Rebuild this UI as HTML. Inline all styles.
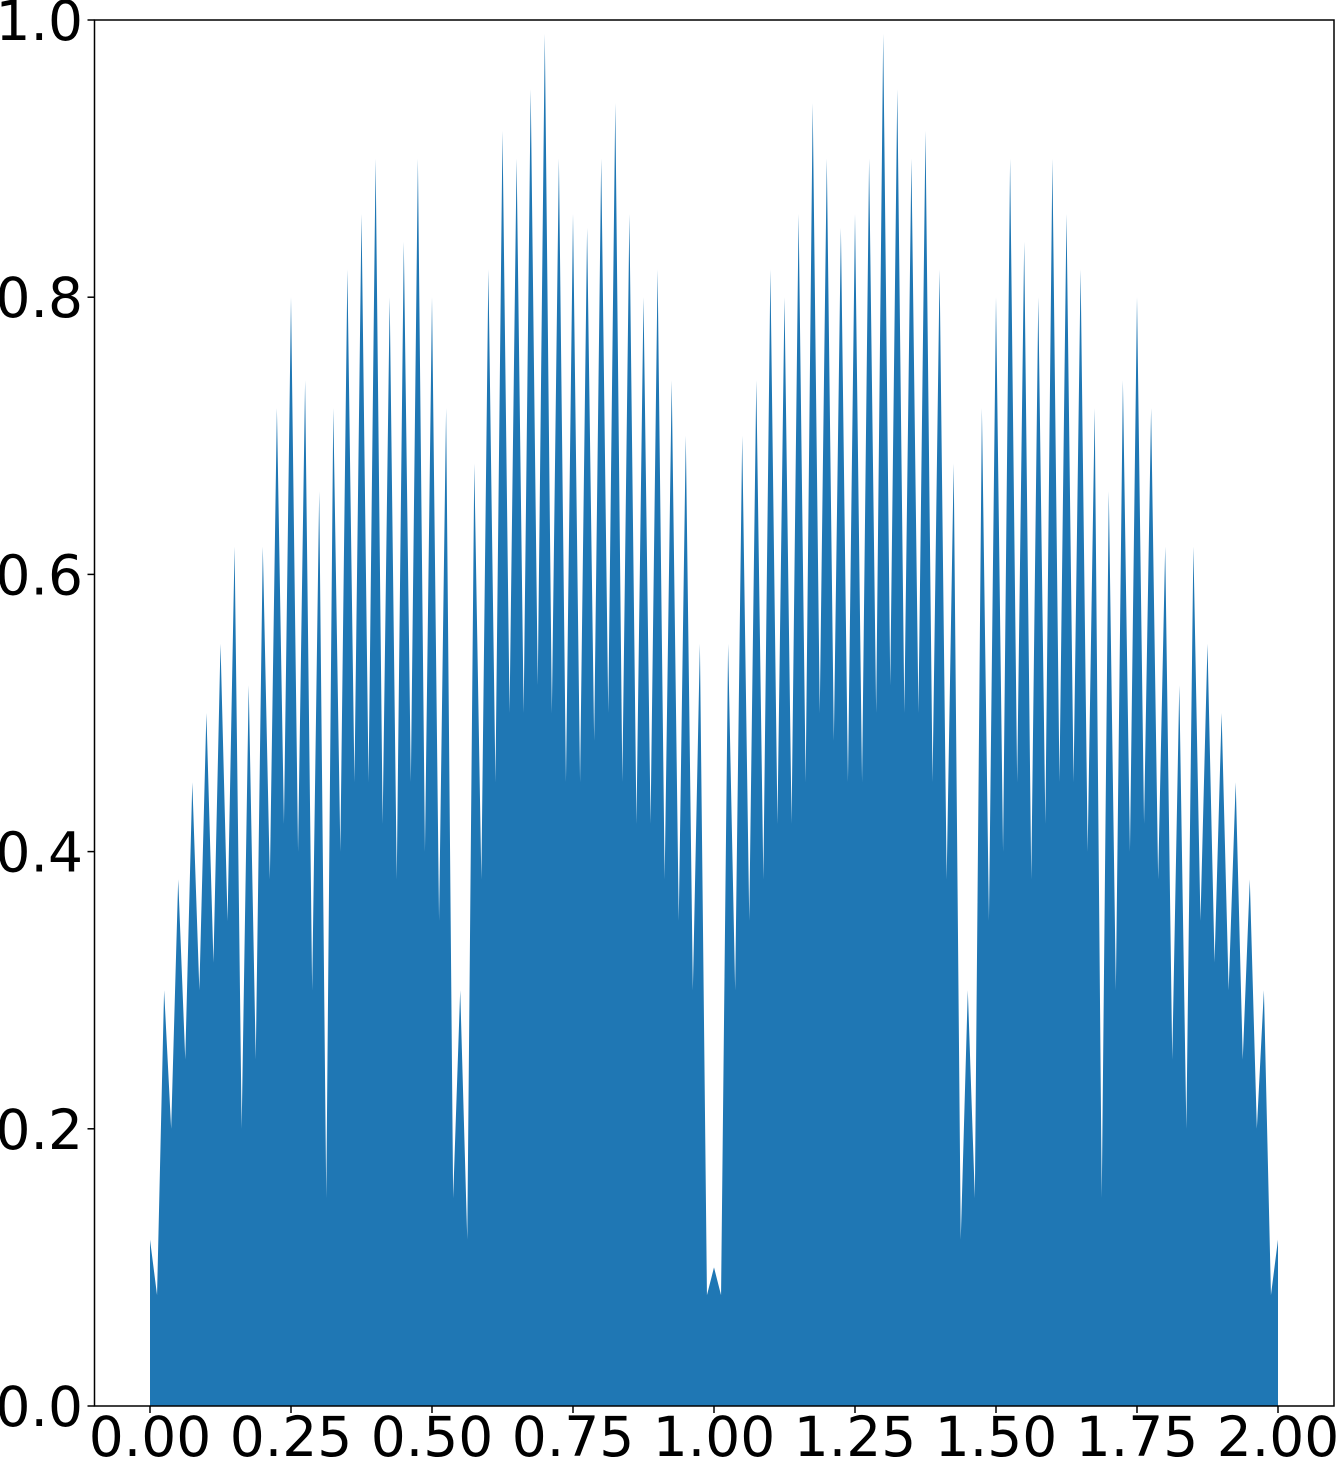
<!DOCTYPE html>
<html><head><meta charset="utf-8"><style>
html,body{margin:0;padding:0;background:#fff;}
svg{display:block;font-family:"DejaVu Sans","Liberation Sans",sans-serif;}
</style></head><body>
<svg id="chart" width="1336" height="1460" viewBox="0 0 1336 1460"></svg>
<script>
const xTicks=["0.00","0.25","0.50","0.75","1.00","1.25","1.50","1.75","2.00"];
const yTicks=["0.0","0.2","0.4","0.6","0.8","1.0"];
const peaks=[0.12,0.3,0.38,0.45,0.5,0.55,0.62,0.52,0.62,0.72,0.8,0.74,0.66,0.72,0.82,0.86,0.9,0.8,0.84,0.9,0.8,0.72,0.3,0.68,0.82,0.92,0.9,0.95,0.99,0.9,0.86,0.85,0.9,0.94,0.86,0.8,0.82,0.74,0.7,0.55,0.1,
0.55,0.7,0.74,0.82,0.8,0.86,0.94,0.9,0.85,0.86,0.9,0.99,0.95,0.9,0.92,0.82,0.68,0.3,0.72,0.8,0.9,0.84,0.8,0.9,0.86,0.82,0.72,0.66,0.74,0.8,0.72,0.62,0.52,0.62,0.55,0.5,0.45,0.38,0.3,0.12];
const troughs=[0.08,0.2,0.25,0.3,0.32,0.35,0.2,0.25,0.38,0.42,0.4,0.3,0.15,0.4,0.45,0.45,0.42,0.38,0.45,0.4,0.35,0.15,0.12,0.38,0.45,0.5,0.5,0.52,0.5,0.45,0.45,0.48,0.5,0.45,0.42,0.42,0.38,0.35,0.3,0.08,
0.08,0.3,0.35,0.38,0.42,0.42,0.45,0.5,0.48,0.45,0.45,0.5,0.52,0.5,0.5,0.45,0.38,0.12,0.15,0.35,0.4,0.45,0.38,0.42,0.45,0.45,0.4,0.15,0.3,0.4,0.42,0.38,0.25,0.2,0.35,0.32,0.3,0.25,0.2,0.08];
const step=0.025;
const NS="http://www.w3.org/2000/svg";
const svg=document.getElementById('chart');
const L=94.5,R=1334,T=20,B=1406;
const X=v=>150+v*564;
const Y=v=>B-v*(B-T);
function mk(tag,attrs){const e=document.createElementNS(NS,tag);for(const k in attrs)e.setAttribute(k,attrs[k]);svg.appendChild(e);return e;}
let d=`M${X(0)},${Y(0)} L${X(0)},${Y(peaks[0])}`;
for(let i=0;i<troughs.length;i++){
  d+=` L${X((i+0.5)*step)},${Y(troughs[i])}`;
  d+=` L${X((i+1)*step)},${Y(peaks[i+1])}`;
}
d+=` L${X((peaks.length-1)*step)},${Y(0)} Z`;
const area=mk('path',{d:d,fill:'#1f77b4'});


const frame=mk('rect',{x:L,y:T,width:R-L,height:B-T,fill:'none',stroke:'#000','stroke-width':1.5});


xTicks.forEach(t=>{
  const x=X(parseFloat(t));
  mk('line',{x1:x,y1:B,x2:x,y2:B+7,stroke:'#000','stroke-width':1.5});
  const tx=mk('text',{x:x,y:1456,'font-size':55,'text-anchor':'middle'});
  tx.textContent=t;
  
  
});
yTicks.forEach(t=>{
  const y=Y(parseFloat(t));
  mk('line',{x1:L-7,y1:y,x2:L,y2:y,stroke:'#000','stroke-width':1.5});
  const tx=mk('text',{x:83,y:y+20,'font-size':55,'text-anchor':'end'});
  tx.textContent=t;
  
  
});
</script>
</body></html>
